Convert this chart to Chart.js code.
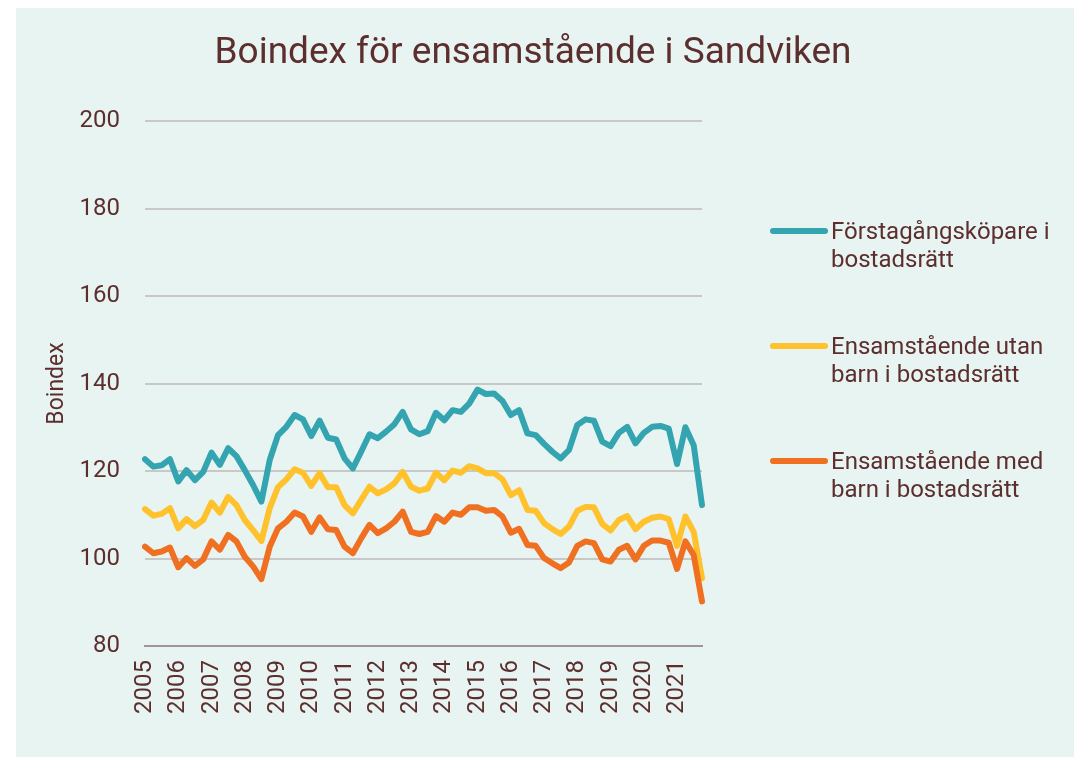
<!DOCTYPE html>
<html lang="sv">
<head>
<meta charset="utf-8">
<title>Boindex för ensamstående i Sandviken</title>
<script src="https://cdn.jsdelivr.net/npm/chart.js@4"></script>
<style>
  html, body { margin: 0; padding: 0; background: #ffffff; }
  #panel {
    position: absolute;
    left: 16px; top: 8px;
    width: 1058px; height: 749px;
    background: #e8f4f1;
  }
</style>
</head>
<body>
<div id="panel"><canvas id="chart" width="1058" height="749"></canvas></div>
<script>
// Kvartalsvärden 2005 K1 – 2021 K4
const years = [2005, 2006, 2007, 2008, 2009, 2010, 2011, 2012, 2013,
               2014, 2015, 2016, 2017, 2018, 2019, 2020, 2021];

const forstagangskopare = [
  122.7, 121.0, 121.3, 122.7, 117.6, 120.2, 117.9, 119.8, 124.2, 121.4,
  125.2, 123.4, 120.2, 116.8, 113.0, 122.5, 128.2, 130.1, 132.8, 131.8,
  128.0, 131.5, 127.6, 127.2, 122.9, 120.6, 124.4, 128.4, 127.5, 129.0,
  130.7, 133.5, 129.5, 128.4, 129.1, 133.3, 131.6, 133.9, 133.5, 135.4,
  138.6, 137.6, 137.7, 136.0, 132.8, 133.9, 128.6, 128.2, 126.2, 124.4,
  122.9, 124.8, 130.5, 131.8, 131.5, 126.7, 125.7, 128.7, 130.1, 126.3,
  128.7, 130.1, 130.3, 129.7, 121.6, 130.0, 125.9, 112.2
];

const utanBarn = [
  111.3, 109.8, 110.2, 111.5, 106.9, 109.0, 107.4, 108.8, 112.8, 110.5,
  114.1, 112.2, 108.8, 106.5, 104.0, 111.5, 116.3, 118.1, 120.4, 119.6,
  116.6, 119.5, 116.3, 116.3, 112.2, 110.3, 113.4, 116.4, 114.9, 115.8,
  117.2, 119.8, 116.4, 115.5, 116.0, 119.6, 117.9, 120.1, 119.6, 121.1,
  120.6, 119.5, 119.5, 118.1, 114.5, 115.6, 111.1, 110.9, 108.1, 106.7,
  105.6, 107.3, 110.9, 111.8, 111.7, 107.9, 106.4, 108.8, 109.7, 106.7,
  108.4, 109.3, 109.6, 109.0, 102.9, 109.6, 106.1, 95.5
];

const medBarn = [
  102.7, 101.2, 101.6, 102.5, 98.0, 100.1, 98.3, 99.8, 103.9, 102.0,
  105.4, 103.9, 100.4, 98.2, 95.3, 102.7, 106.9, 108.4, 110.5, 109.6,
  106.1, 109.4, 106.7, 106.5, 102.7, 101.2, 104.6, 107.7, 105.8, 106.9,
  108.4, 110.7, 106.1, 105.6, 106.1, 109.7, 108.4, 110.5, 110.0, 111.7,
  111.7, 110.9, 111.1, 109.6, 105.9, 106.8, 103.1, 102.9, 100.1, 98.9,
  97.8, 99.1, 102.9, 103.9, 103.5, 99.8, 99.3, 102.0, 102.9, 99.8,
  102.9, 104.1, 104.1, 103.6, 97.6, 103.9, 100.8, 90.2
];

const seriesNames = [
  ['Förstagångsköpare i', 'bostadsrätt'],
  ['Ensamstående utan', 'barn i bostadsrätt'],
  ['Ensamstående med', 'barn i bostadsrätt']
];

const yTicks = [80, 100, 120, 140, 160, 180, 200];

const quarters = [];
years.forEach(y => { for (let q = 1; q <= 4; q++) quarters.push(y + ' K' + q); });

const TEXT = '#5c2e2e';
const FONT = 'Roboto, "Noto Sans", sans-serif';

// Titel och förklaring ritas för hand så att de hamnar utanför diagramytan
const decorations = {
  id: 'decorations',
  afterDraw(chart) {
    const ctx = chart.ctx;
    ctx.save();
    ctx.fillStyle = TEXT;
    ctx.font = '37px ' + FONT;
    ctx.textAlign = 'center';
    ctx.textBaseline = 'alphabetic';
    ctx.fillText('Boindex för ensamstående i Sandviken', 517, 55);

    const rows = [223, 338, 453];
    chart.data.datasets.forEach((ds, i) => {
      const y = rows[i];
      ctx.strokeStyle = ds.borderColor;
      ctx.lineWidth = 6;
      ctx.lineCap = 'round';
      ctx.beginPath();
      ctx.moveTo(757, y);
      ctx.lineTo(809, y);
      ctx.stroke();

      ctx.fillStyle = TEXT;
      ctx.font = '24px ' + FONT;
      ctx.textAlign = 'left';
      seriesNames[i].forEach((line, k) => {
        ctx.fillText(line, 815, y + 8 + k * 28);
      });
    });
    ctx.restore();
  }
};

new Chart(document.getElementById('chart'), {
  type: 'line',
  data: {
    labels: quarters,
    datasets: [
      { label: seriesNames[0].join(' '), data: forstagangskopare, borderColor: '#33a4b0', order: 2 },
      { label: seriesNames[1].join(' '), data: utanBarn, borderColor: '#ffc12c', order: 1 },
      { label: seriesNames[2].join(' '), data: medBarn, borderColor: '#f07022', order: 0 }
    ]
  },
  options: {
    responsive: false,
    animation: false,
    layout: { padding: { top: 113, right: 372, left: 0, bottom: 0 } },
    elements: {
      line: { borderWidth: 6, tension: 0, borderJoinStyle: 'round', borderCapStyle: 'round' },
      point: { radius: 0 }
    },
    plugins: {
      legend: { display: false },
      title: { display: false },
      tooltip: { enabled: false }
    },
    scales: {
      x: {
        afterFit(scale) { scale.height = 111; },
        grid: { display: false, drawTicks: false },
        border: { display: true, color: '#a39494', width: 2 },
        ticks: {
          autoSkip: false,
          minRotation: 90,
          maxRotation: 90,
          padding: 14,
          color: TEXT,
          font: { family: FONT, size: 24 },
          callback(value, index) {
            return index % 4 === 0 ? String(years[index / 4]) : '';
          }
        }
      },
      y: {
        min: 80,
        max: 200,
        afterFit(scale) { scale.width = 129; },
        afterBuildTicks(scale) { scale.ticks = yTicks.map(v => ({ value: v })); },
        grid: { color: '#c8c8c8', lineWidth: 2, drawTicks: false },
        border: { display: false },
        ticks: {
          padding: 25,
          color: TEXT,
          font: { family: FONT, size: 24 }
        },
        title: {
          display: true,
          text: 'Boindex',
          color: TEXT,
          padding: { top: 27, bottom: 0 },
          font: { family: FONT, size: 23 }
        }
      }
    }
  },
  plugins: [decorations]
});
</script>
</body>
</html>
